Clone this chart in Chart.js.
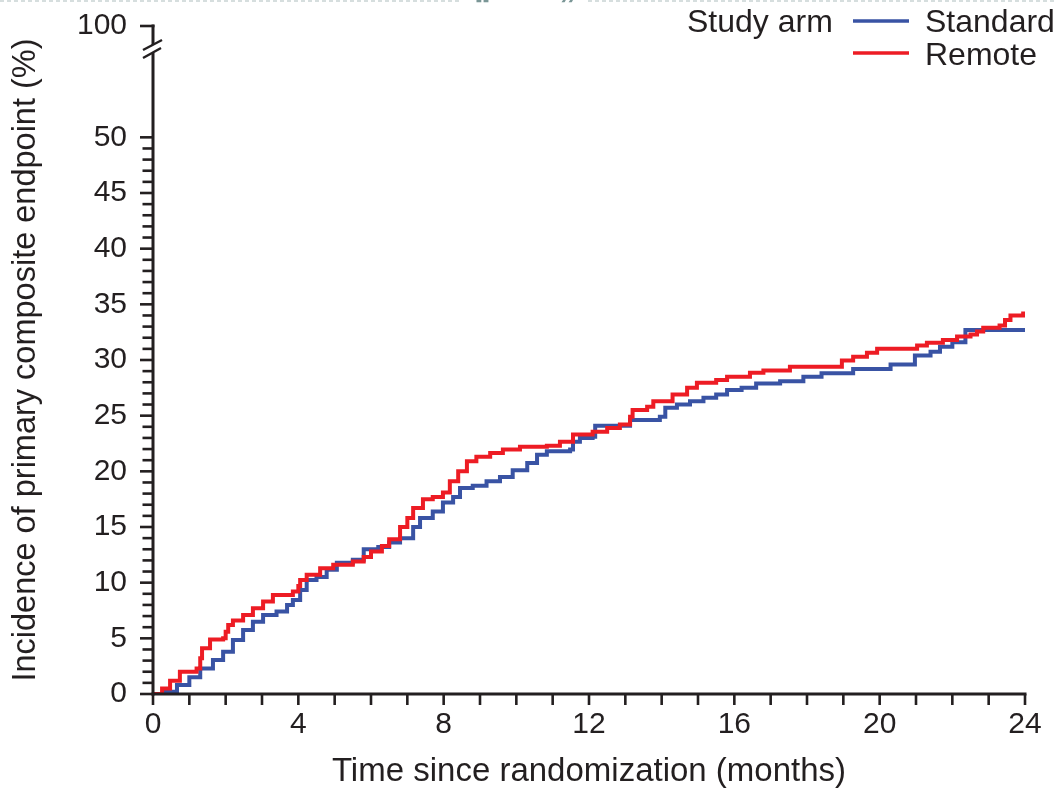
<!DOCTYPE html>
<html>
<head>
<meta charset="utf-8">
<script src="https://cdn.jsdelivr.net/npm/chart.js@4.4.0/dist/chart.umd.min.js"></script>
<style>
  html, body { margin: 0; padding: 0; background: #ffffff; }
  #wrap { width: 1057px; height: 792px; }
</style>
</head>
<body>
<div id="wrap"><canvas id="c" width="1057" height="792"></canvas></div>
<script>
// ---------------- DATA ----------------
const seriesNames = ['Standard', 'Remote'];
const legendTitle = 'Study arm';
const xTitle = 'Time since randomization (months)';
const yTitle = 'Incidence of primary composite endpoint (%)';

const xTickValues = [0, 4, 8, 12, 16, 20, 24];
const xTickLabels = ['0', '4', '8', '12', '16', '20', '24'];
const yTickValues = [0, 5, 10, 15, 20, 25, 30, 35, 40, 45, 50, 60];
const yTickLabels = ['0', '5', '10', '15', '20', '25', '30', '35', '40', '45', '50', '100'];

const standardMonths = [0, 0.28, 0.66, 1.0, 1.3, 1.65, 1.93, 2.2, 2.48, 2.75, 3.03, 3.4, 3.69, 3.85, 4.05, 4.23, 4.5, 4.78, 5.06, 5.5, 5.8, 6.2, 6.5, 6.8, 7.16, 7.35, 7.7, 7.98, 8.26, 8.45, 8.8, 9.18, 9.55, 9.9, 10.3, 10.57, 10.84, 11.48, 11.56, 11.75, 12.1, 12.17, 13.13, 13.95, 14.1, 14.42, 14.78, 15.15, 15.5, 15.8, 16.2, 16.6, 17.26, 17.9, 18.4, 19.27, 20.3, 20.97, 21.4, 21.66, 22.0, 22.36, 24.0];
const standardPct    = [0, 0.2, 0.8, 1.5, 2.3, 3.05, 3.8, 4.85, 5.75, 6.5, 7.1, 7.4, 8.0, 8.45, 9.35, 10.25, 10.5, 11.15, 11.8, 12.05, 13.0, 13.2, 13.6, 14.0, 15.0, 15.8, 16.4, 17.2, 17.7, 18.5, 18.7, 19.1, 19.5, 20.1, 20.75, 21.5, 21.8, 21.95, 22.65, 23.0, 23.1, 24.1, 24.6, 24.9, 25.7, 26.0, 26.3, 26.6, 26.9, 27.3, 27.5, 27.9, 28.1, 28.5, 28.8, 29.2, 29.6, 30.4, 30.75, 31.2, 31.6, 32.7, 32.7];

const remoteMonths = [0, 0.25, 0.47, 0.74, 1.2, 1.3, 1.35, 1.57, 1.93, 2.0, 2.07, 2.2, 2.48, 2.75, 3.03, 3.3, 3.85, 4.0, 4.05, 4.23, 4.6, 4.96, 5.5, 5.8, 6.0, 6.3, 6.5, 6.8, 7.0, 7.16, 7.43, 7.7, 7.98, 8.17, 8.4, 8.64, 8.9, 9.28, 9.63, 10.1, 10.84, 11.2, 11.56, 12.1, 12.5, 12.85, 13.13, 13.2, 13.6, 13.77, 14.3, 14.7, 14.97, 15.5, 15.8, 16.43, 16.8, 17.53, 18.96, 19.27, 19.65, 19.93, 21.03, 21.3, 21.74, 22.13, 22.5, 22.68, 22.85, 23.3, 23.45, 23.6, 23.95];
const remotePct    = [0, 0.5, 1.2, 2.0, 2.3, 3.2, 4.1, 4.9, 5.0, 5.6, 6.2, 6.6, 7.1, 7.7, 8.3, 8.9, 9.2, 9.7, 10.25, 10.7, 11.3, 11.6, 11.9, 12.3, 12.8, 13.3, 13.9, 15.0, 15.8, 16.7, 17.5, 17.7, 18.1, 19.1, 20.0, 20.9, 21.3, 21.65, 21.95, 22.2, 22.3, 22.65, 23.3, 23.55, 23.9, 24.2, 24.9, 25.5, 25.8, 26.3, 26.9, 27.5, 27.95, 28.2, 28.5, 28.85, 29.05, 29.4, 29.95, 30.3, 30.65, 31.0, 31.3, 31.55, 31.8, 32.1, 32.3, 32.55, 32.9, 33.1, 33.6, 34.0, 34.35];

const yMinorMax = 50;   // minor ticks up to this value
const yBreakValue = 60; // scale position used for the "100" label
const xMin = 0, xMax = 24;

// ---------------- STYLE ----------------
const blue = '#3953a4';
const red = '#ed1c24';
const ink = '#231f20';
const FONT = '"Liberation Sans", Arial, Helvetica, sans-serif';

const toPoints = (xs, ys) => xs.map((v, i) => ({ x: v, y: ys[i] }));

const decor = {
  id: 'decor',
  afterDraw(chart) {
    const { ctx } = chart;
    const xs = chart.scales.x, ys = chart.scales.y;
    const x0 = xs.getPixelForValue(xMin);
    const x1 = xs.getPixelForValue(xMax);
    const yb = ys.getPixelForValue(0);
    const yt = ys.getPixelForValue(yBreakValue);
    const seg = (a, b, c, d) => { ctx.beginPath(); ctx.moveTo(a, b); ctx.lineTo(c, d); ctx.stroke(); };

    ctx.save();
    ctx.strokeStyle = ink;
    ctx.lineCap = 'butt';
    ctx.lineWidth = 3;
    // x axis line
    seg(x0 - 1.5, yb, x1 + 1.5, yb);
    // x ticks every month
    ctx.lineWidth = 2.6;
    for (let m = xMin; m <= xMax; m++) {
      const px = xs.getPixelForValue(m);
      seg(px, yb, px, yb + 11);
    }
    // y axis lower segment and upper segment
    ctx.lineWidth = 3;
    seg(x0, yb + 1.5, x0, yt + 27);
    seg(x0, yt + 19, x0, yt - 1.5);
    // top tick (100)
    ctx.lineWidth = 2.6;
    seg(x0 - 13, yt, x0 + 1.5, yt);
    // y ticks 0..50
    for (let v = 0; v <= yMinorMax; v++) {
      const py = ys.getPixelForValue(v);
      const len = v % 5 === 0 ? 13 : 10.5;
      seg(x0 - len, py, x0, py);
    }
    // break marks
    ctx.lineWidth = 2.4;
    seg(x0 - 10, yt + 24, x0 + 9, yt + 14);
    seg(x0 - 10, yt + 32, x0 + 8, yt + 22);

    // legend
    const ds = chart.data.datasets;
    ctx.font = '32px ' + FONT;
    ctx.fillStyle = ink;
    ctx.textBaseline = 'alphabetic';
    ctx.textAlign = 'left';
    ctx.fillText(legendTitle, 687, 32);
    const rows = [{ y: 21, base: 32 }, { y: 53, base: 65 }];
    ds.forEach((d, i) => {
      ctx.strokeStyle = d.borderColor;
      ctx.lineWidth = 3.4;
      seg(853, rows[i].y, 909, rows[i].y);
      ctx.fillStyle = ink;
      ctx.fillText(d.label, 925, rows[i].base);
    });

    // faint page artefact at the very top
    ctx.strokeStyle = '#d6dede';
    ctx.lineWidth = 2;
    ctx.setLineDash([4, 3]);
    seg(0, 1, 462, 1);
    seg(588, 1, 1057, 1);
    ctx.setLineDash([]);
    ctx.fillStyle = '#7a9696';
    ctx.font = 'bold 34px ' + FONT;
    ctx.fillText('\u201C', 474, 16);
    ctx.fillText('\u201D', 559, 16);
    ctx.restore();
  }
};

new Chart(document.getElementById('c'), {
  type: 'line',
  data: {
    datasets: [
      { label: seriesNames[0], data: toPoints(standardMonths, standardPct), borderColor: blue, backgroundColor: blue, order: 1 },
      { label: seriesNames[1], data: toPoints(remoteMonths, remotePct), borderColor: red, backgroundColor: red, order: 0 }
    ]
  },
  options: {
    responsive: false,
    animation: false,
    devicePixelRatio: 1,
    layout: { padding: { top: 26, right: 32, left: 0, bottom: 0 } },
    elements: {
      line: { borderWidth: 4, stepped: 'before', fill: false, borderCapStyle: 'butt', borderJoinStyle: 'miter' },
      point: { radius: 0, hoverRadius: 0 }
    },
    plugins: { legend: { display: false }, tooltip: { enabled: false } },
    scales: {
      x: {
        type: 'linear',
        min: xMin, max: xMax,
        grid: { display: false, drawTicks: false },
        border: { display: false },
        afterBuildTicks: s => { s.ticks = xTickValues.map(v => ({ value: v })); },
        afterFit: s => { s.height = 98; s.paddingLeft = 0; s.paddingRight = 0; },
        ticks: {
          autoSkip: false, maxRotation: 0,
          padding: 13,
          color: ink,
          font: { family: FONT, size: 30 },
          callback: (v, i) => xTickLabels[i]
        },
        title: {
          display: true, text: xTitle, color: ink,
          font: { family: FONT, size: 33 },
          padding: { top: 0, bottom: 0 }
        }
      },
      y: {
        type: 'linear',
        min: 0, max: yBreakValue,
        grid: { display: false, drawTicks: false },
        border: { display: false },
        afterBuildTicks: s => { s.ticks = yTickValues.map(v => ({ value: v })); },
        afterFit: s => { s.width = 153; s.paddingTop = 0; s.paddingBottom = 0; },
        ticks: {
          autoSkip: false,
          padding: 26,
          color: ink,
          font: { family: FONT, size: 30 },
          callback: (v, i) => yTickLabels[i]
        },
        title: {
          display: true, text: yTitle, color: ink,
          font: { family: FONT, size: 32.5 },
          padding: { top: 7, bottom: 0 }
        }
      }
    }
  },
  plugins: [decor]
});
</script>
</body>
</html>
